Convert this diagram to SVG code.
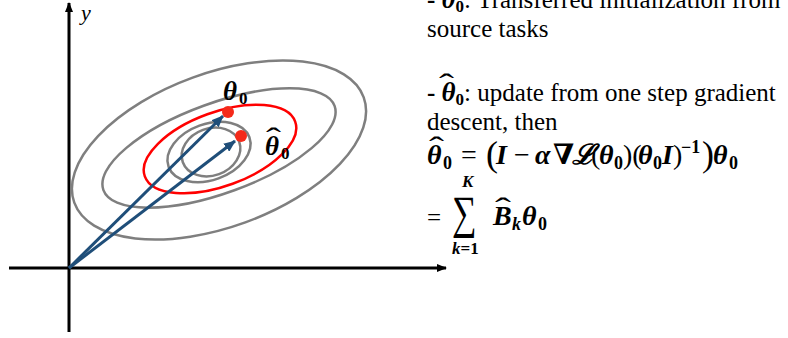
<svg xmlns="http://www.w3.org/2000/svg" width="788" height="338" viewBox="0 0 788 338">
<defs>
<style>
.ax{stroke:#000;stroke-width:3;fill:none}
.gr{stroke:#7f7f7f;stroke-width:2.5;fill:none}
.rd{stroke:#ff0000;stroke-width:2.5;fill:none}
.bl{stroke:#1f4e79;stroke-width:3;fill:none}
.dot{fill:#f52a1a}
.t{font-family:"Liberation Serif","Times New Roman",serif;font-size:25px;fill:#000}
.m{font-family:"Liberation Serif","DejaVu Serif",serif;font-weight:bold;font-style:italic;fill:#000}
.mu{font-family:"Liberation Serif","DejaVu Serif",serif;font-weight:bold;font-style:normal}
.mr{font-family:"Liberation Serif","DejaVu Serif",serif;font-weight:normal;font-style:normal}
.hat{font-family:"Liberation Serif","DejaVu Serif",serif;font-weight:normal;fill:#000}
</style>
<marker id="ak" markerWidth="10" markerHeight="8" refX="9" refY="4" orient="auto" markerUnits="userSpaceOnUse"><path d="M0,0 L10,4 L0,8 Z" fill="#000"/></marker>
<marker id="ab" markerWidth="12" markerHeight="10" refX="11" refY="5" orient="auto" markerUnits="userSpaceOnUse"><path d="M0,0 L12,5 L0,10 Z" fill="#1f4e79"/></marker>
</defs>
<g id="axes">
<line class="ax" x1="69" y1="332" x2="69" y2="3" marker-end="url(#ak)"/>
<line class="ax" x1="9" y1="268" x2="446" y2="268" marker-end="url(#ak)"/>
<text x="81" y="20" font-family="Liberation Serif,serif" font-style="italic" font-size="22">y</text>
</g>
<g id="contours">
<ellipse class="gr" cx="219" cy="150" rx="154" ry="77" transform="rotate(-20 219 150)"/>
<ellipse class="gr" cx="219" cy="148" rx="123" ry="45" transform="rotate(-20 219 148)"/>
<ellipse class="rd" cx="220" cy="149" rx="80" ry="37" transform="rotate(-20 220 149)"/>
<ellipse class="gr" cx="209" cy="152" rx="43" ry="28" transform="rotate(-20 209 152)"/>
<ellipse class="gr" cx="211" cy="152" rx="30" ry="23.5" transform="rotate(-20 211 152)"/>
</g>
<g id="connectors">
<line class="bl" x1="69" y1="268" x2="223" y2="116" marker-end="url(#ab)"/>
<line class="bl" x1="69" y1="268" x2="235" y2="141" marker-end="url(#ab)"/>
</g>
<g id="theta0">
<circle class="dot" cx="228" cy="112" r="6"/>
<text x="223" y="100" class="m" font-size="27">θ</text>
<text x="239" y="104" class="mu" font-size="17">0</text>
</g>
<g id="theta0hat">
<circle class="dot" cx="241" cy="136" r="6"/>
<text x="265" y="155" class="m" font-size="27">θ</text>
<text x="281" y="159" class="mu" font-size="17">0</text>
<text class="hat" font-size="30" transform="translate(266,148) scale(1.5,1)">ˆ</text>
</g>
<g id="legend">
<text x="427" y="8" class="t"><tspan font-weight="bold">- </tspan><tspan class="m" font-size="27">θ</tspan><tspan class="mu" font-size="17" dy="4">0</tspan><tspan dy="-4">: Transferred initialization from</tspan></text>
<text x="427" y="37" class="t">source tasks</text>
<text x="427" y="101" class="t"><tspan font-weight="bold">- </tspan><tspan class="m" font-size="27">θ</tspan><tspan class="mu" font-size="17" dy="4">0</tspan><tspan dy="-4">: update from one step gradient</tspan></text>
<text class="hat" font-size="30" transform="translate(439,94) scale(1.5,1)">ˆ</text>
<text x="427" y="130" class="t">descent, then</text>
<g id="equation">
<text class="hat" font-size="30" transform="translate(429,157) scale(1.5,1)">ˆ</text>
<text y="164" class="m" font-size="28"><tspan x="427">θ</tspan><tspan class="mu" font-size="18" x="443" dy="5">0</tspan><tspan class="mr" x="461" dy="-5">=</tspan><tspan class="mr" x="486" font-size="36" dy="2">(</tspan><tspan x="496" dy="-2">I</tspan><tspan class="mr" x="514">−</tspan><tspan x="535">α</tspan><tspan x="553">∇</tspan><tspan x="572">ℒ</tspan><tspan class="mr" x="591">(</tspan><tspan x="599">θ</tspan><tspan class="mu" font-size="18" x="614" dy="5">0</tspan><tspan class="mr" x="623" dy="-5">)(</tspan><tspan x="638">θ</tspan><tspan class="mu" font-size="18" x="653" dy="5">0</tspan><tspan x="662" dy="-5">I</tspan><tspan class="mr" x="673">)</tspan><tspan class="mu" font-size="18" x="681" dy="-11">−1</tspan><tspan class="mr" x="702" font-size="36" dy="13">)</tspan><tspan x="713" dy="-2">θ</tspan><tspan class="mu" font-size="18" x="729" dy="5">0</tspan></text>
</g>
<text x="427" y="226" class="t">=</text>
<text font-family="Liberation Serif,DejaVu Serif,serif" font-size="30" transform="translate(452,228) scale(1.15,1.55)">∑</text>
<text x="462" y="187" class="m" font-size="17">K</text>
<text x="452" y="254" class="m" font-size="17">k<tspan class="mu">=1</tspan></text>
<text class="hat" font-size="30" transform="translate(495,218) scale(1.6,1)">ˆ</text>
<text y="225" class="m" font-size="28"><tspan x="493">B</tspan><tspan font-size="18" x="512" dy="5">k</tspan><tspan x="522" dy="-5">θ</tspan><tspan class="mu" font-size="18" x="538" dy="5">0</tspan></text>
</g>
</svg>
